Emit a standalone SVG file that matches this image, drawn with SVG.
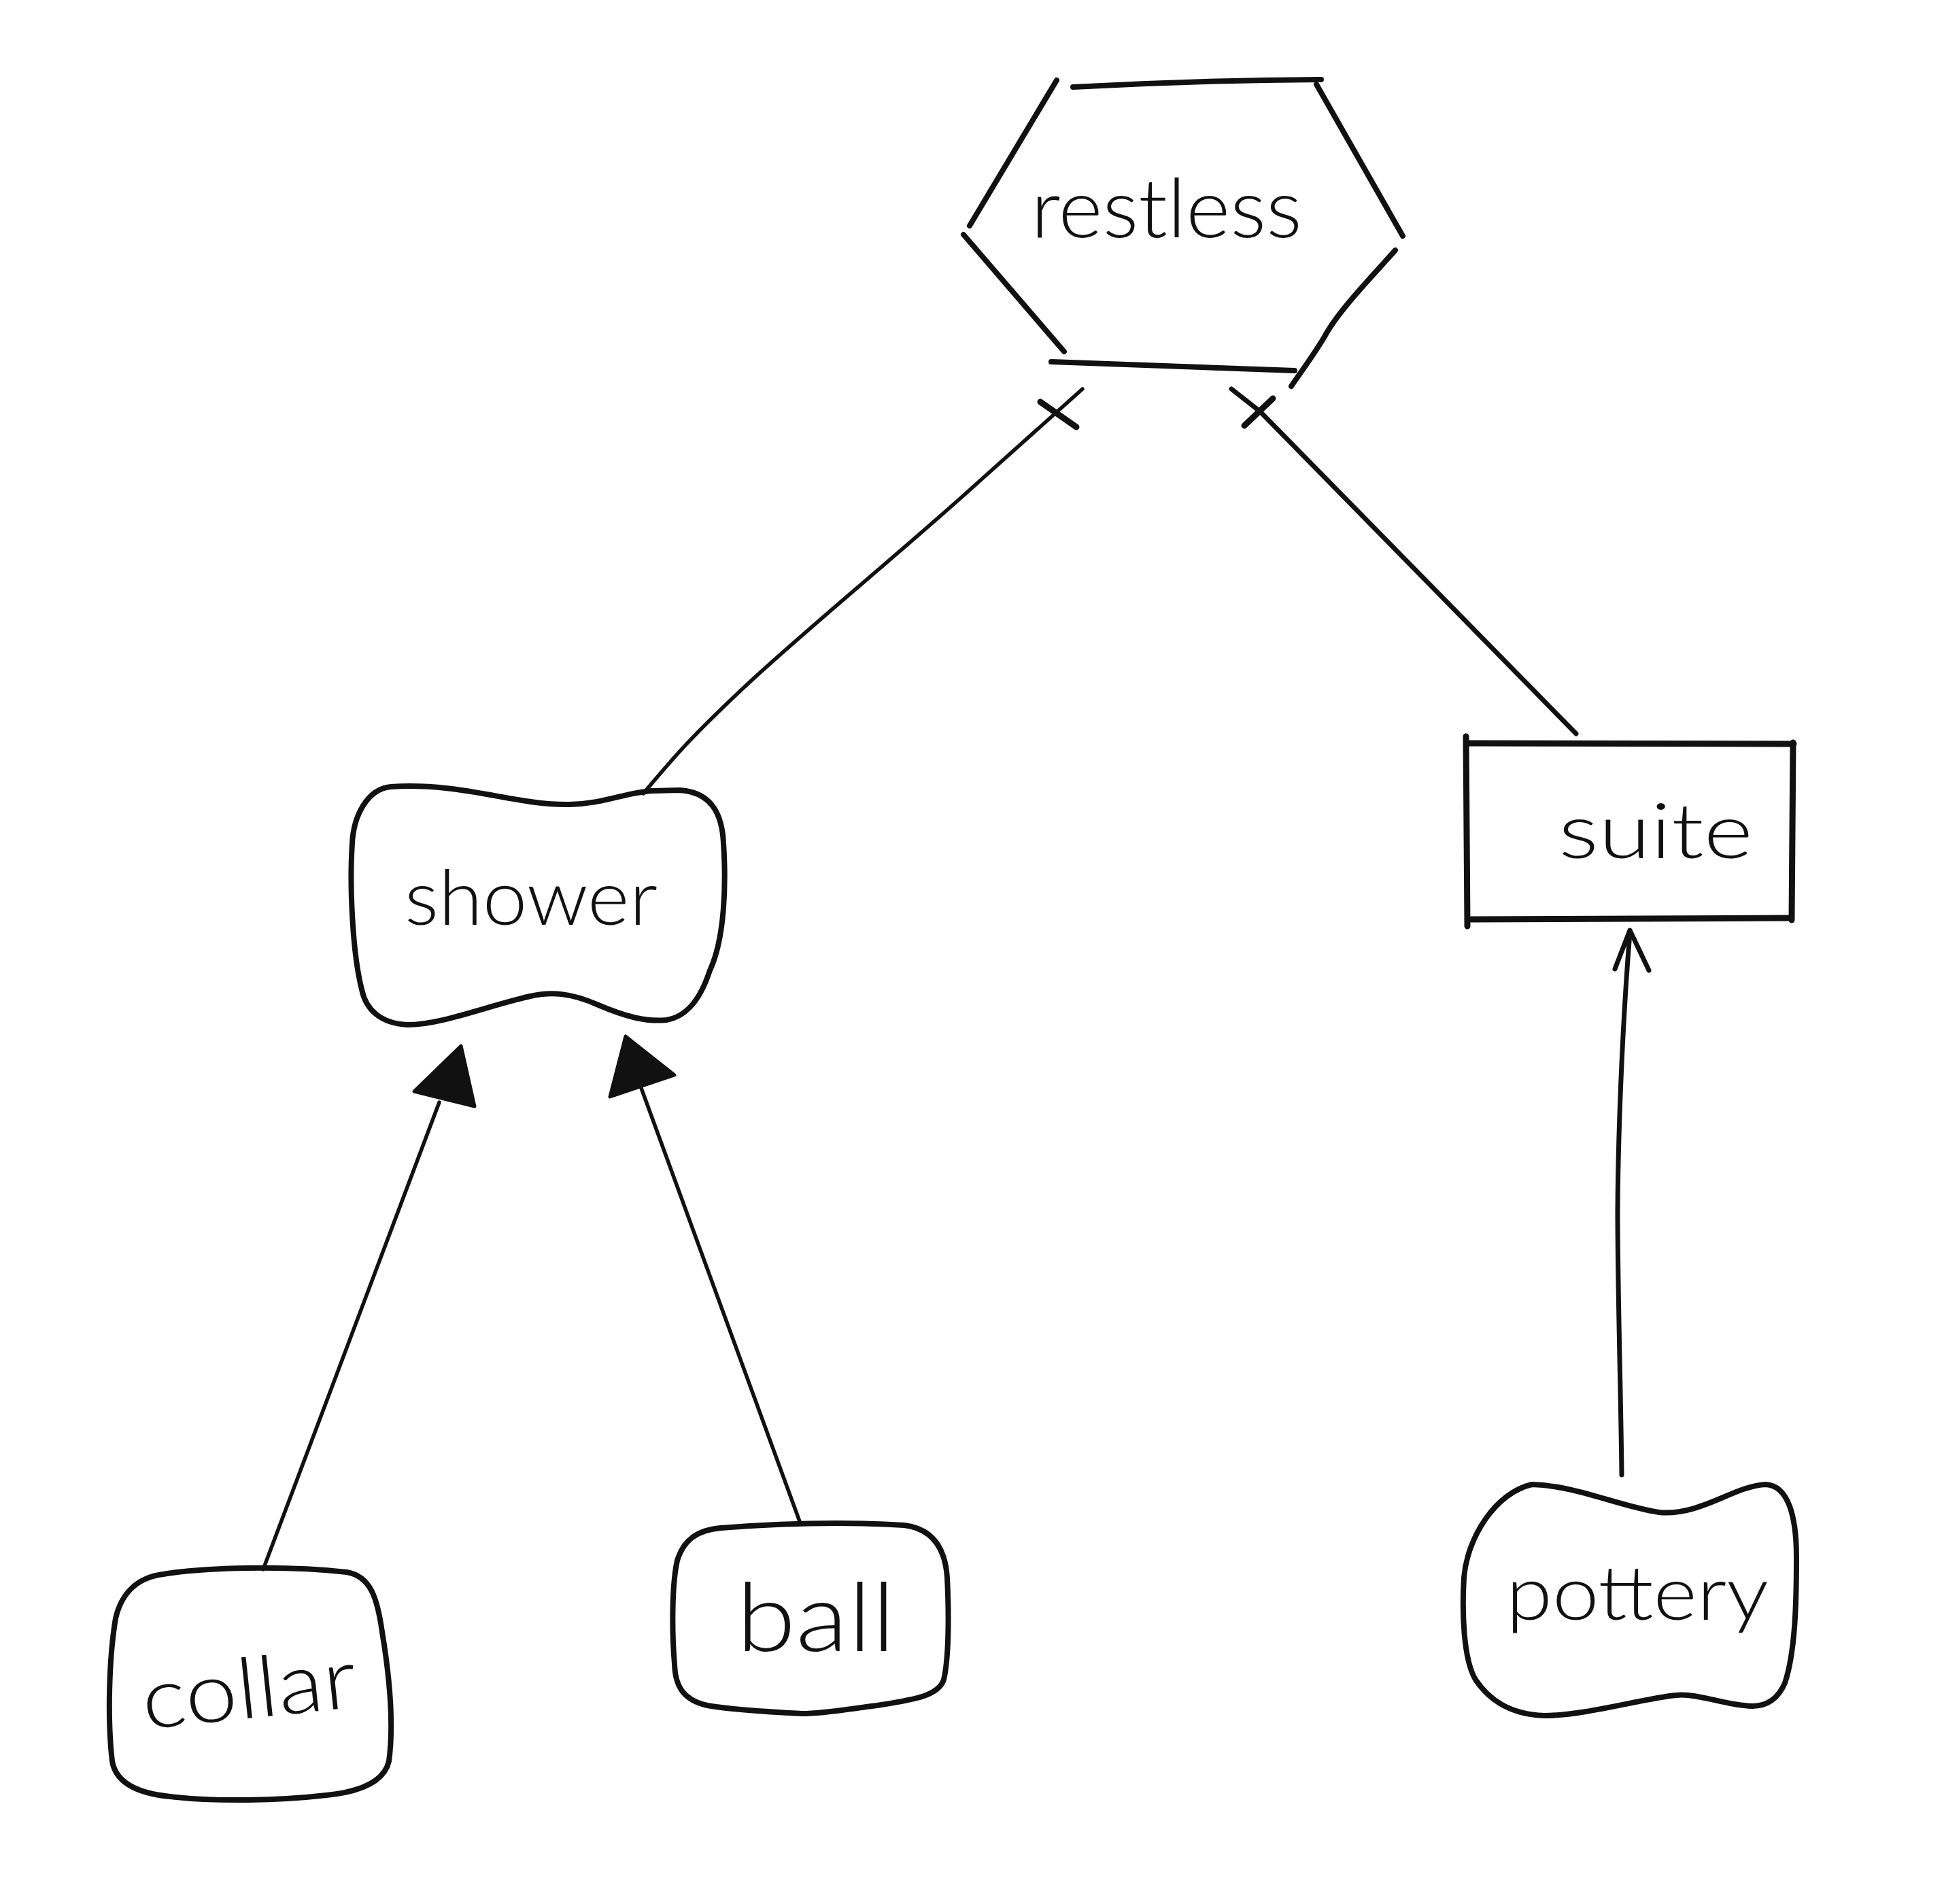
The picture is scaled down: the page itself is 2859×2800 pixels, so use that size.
<svg xmlns="http://www.w3.org/2000/svg" width="2859" height="2800" viewBox="0 0 2859 2800">
<style>
.bg{fill:#ffffff}
.shape{fill:none;stroke:#111;stroke-width:8;stroke-linecap:round;stroke-linejoin:round}
.edge{fill:none;stroke:#111;stroke-width:5.5;stroke-linecap:round;stroke-linejoin:round}
.tick{fill:none;stroke:#111;stroke-width:9;stroke-linecap:round}
.head{fill:#111;stroke:#111;stroke-width:5;stroke-linejoin:round}
.label{font-family:Lato,"Liberation Sans",sans-serif;font-weight:300;fill:#111}
</style>
<rect class="bg" x="0" y="0" width="2859" height="2800"/>

<g id="connectors">
  <!-- restless -> shower (crossed end) -->
  <path class="edge" d="M1592,572 L1440,708 C1330,808 1180,930 1094,1011 S990,1115 946,1167"/>
  <path class="tick" d="M1530,591 L1583,628"/>
  <!-- restless -> suite (crossed end) -->
  <path class="edge" style="stroke-width:7" d="M1811,572 L1853,605 L2318,1079"/>
  <path class="tick" d="M1830,626 L1872,586"/>
  <!-- collar -> shower -->
  <path class="edge" d="M646,1621 L387,2308"/>
  <path class="head" d="M678,1538 L609,1605 L698,1627 Z"/>
  <!-- ball -> shower -->
  <path class="edge" d="M943,1600 L1177,2240"/>
  <path class="head" d="M920,1524 L897,1613 L992,1581 Z"/>
  <!-- pottery -> suite -->
  <path class="edge" style="stroke-width:7" d="M2397,1372 C2388,1480 2380,1640 2379,1780 C2379,1900 2384,2060 2385,2169"/>
  <path class="edge" style="stroke-width:7" d="M2375,1425 L2397,1368 L2425,1427"/>
</g>

<g id="restless">
  <path class="shape" d="M1578,128 Q1760,118 1943,117"/>
  <path class="shape" d="M1554,118 L1426,332"/>
  <path class="shape" d="M1417,345 L1565,517"/>
  <path class="shape" d="M1546,532 L1904,545"/>
  <path class="shape" d="M1936,124 L2063,347"/>
  <path class="shape" d="M2052,368 C2010,415 1968,458 1948,495 C1932,522 1914,546 1899,568"/>
  <text class="label" x="1516" y="349" font-size="120" textLength="399" lengthAdjust="spacingAndGlyphs">restless</text>
</g>

<g id="shower">
  <path class="shape" d="M575,1157 C680,1150 760,1185 838,1183 C890,1182 920,1165 960,1163 L1000,1162 C1045,1165 1062,1195 1064,1240 C1068,1300 1066,1380 1044,1427 C1030,1470 1010,1495 980,1500 C950,1503 920,1495 880,1478 C840,1460 810,1458 780,1465 C720,1478 650,1507 599,1507 C560,1505 538,1485 532,1455 C518,1400 514,1300 518,1240 C520,1200 540,1160 575,1157 Z"/>
  <text class="label" x="595" y="1360" font-size="112" textLength="372" lengthAdjust="spacingAndGlyphs">shower</text>
</g>

<g id="suite">
  <path class="shape" style="stroke-width:9" d="M2156,1083 L2158,1362"/>
  <path class="shape" style="stroke-width:9" d="M2160,1093 L2638,1094"/>
  <path class="shape" style="stroke-width:9" d="M2637,1092 L2635,1353"/>
  <path class="shape" style="stroke-width:9" d="M2163,1352 L2633,1350"/>
  <text class="label" x="2292" y="1262" font-size="112" textLength="286" lengthAdjust="spacingAndGlyphs">suite</text>
</g>

<g id="collar">
  <path class="shape" d="M240,2315 C300,2305 420,2302 510,2312 C545,2318 555,2350 562,2400 C572,2460 580,2530 572,2590 C565,2620 530,2635 480,2640 C410,2648 320,2650 250,2642 C200,2637 170,2620 165,2590 C158,2530 160,2440 170,2380 C178,2345 200,2320 240,2315 Z"/>
  <text class="label" x="213" y="2543" font-size="124" textLength="316" lengthAdjust="spacingAndGlyphs" transform="rotate(-6 213 2543)">collar</text>
</g>

<g id="ball">
  <path class="shape" d="M1060,2247 C1150,2240 1250,2238 1330,2243 C1370,2248 1390,2275 1393,2320 C1396,2380 1395,2440 1388,2470 C1380,2495 1340,2500 1290,2508 C1250,2513 1210,2520 1180,2520 C1140,2518 1080,2515 1040,2508 C1005,2500 993,2480 992,2447 C988,2400 988,2330 996,2295 C1005,2265 1025,2250 1060,2247 Z"/>
  <text class="label" x="1083" y="2428" font-size="140" textLength="234" lengthAdjust="spacingAndGlyphs">ball</text>
</g>

<g id="pottery">
  <path class="shape" d="M2253,2183 C2320,2185 2380,2215 2440,2224 C2500,2230 2550,2185 2597,2183 C2630,2185 2642,2230 2642,2290 C2642,2360 2640,2430 2625,2475 C2612,2505 2590,2512 2565,2508 C2530,2505 2495,2490 2465,2493 C2420,2497 2330,2523 2271,2523 C2220,2521 2190,2500 2170,2470 C2152,2440 2150,2370 2153,2320 C2158,2260 2200,2195 2253,2183 Z"/>
  <text class="label" x="2215" y="2382" font-size="110" textLength="386" lengthAdjust="spacingAndGlyphs">pottery</text>
</g>
</svg>
